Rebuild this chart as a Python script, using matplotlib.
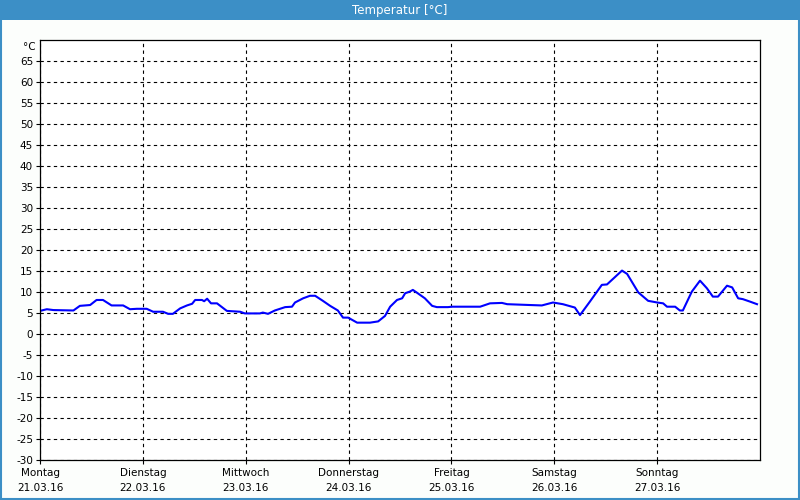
import matplotlib
matplotlib.use("Agg")
import matplotlib.pyplot as plt
from matplotlib.patches import Rectangle

# hours since Montag 00:00 and temperature in °C
hours = [0, 1.6, 3.1, 7.8, 9.3, 11.7, 13.2, 14.7, 16.7, 19.4, 21.0, 22.6,
         24.9, 26.4, 28.7, 29.9, 31.0, 32.7, 34.3, 35.5, 36.2, 37.8, 38.3, 39.0,
         39.9, 41.3, 43.6, 46.7, 47.8, 51.3, 52.0, 53.2, 54.8, 57.2, 58.8, 59.5,
         61.4, 63.0, 64.2, 66.0, 67.7, 69.5, 70.7, 71.9, 74.0, 77.0, 78.9, 80.5,
         81.7, 83.3, 84.5, 85.2, 86.3, 87.0, 88.0, 89.8, 91.5, 92.6, 95.2, 96.1,
         102.7, 105.0, 107.8, 109.0, 114.3, 117.1, 119.7, 122.0, 124.8, 126.0,
         128.3, 131.1, 132.3, 135.8, 137.0, 139.6, 141.9, 144.0, 145.4, 146.3,
         148.2, 149.3, 150.0, 152.1, 154.0, 155.6, 157.0, 158.2, 160.3, 161.5,
         162.9, 164.0, 165.7, 167.3]
temps = [5.5, 5.9, 5.7, 5.6, 6.7, 6.9, 8.1, 8.1, 6.8, 6.8, 5.9, 6.0,
         6.0, 5.3, 5.3, 4.8, 4.8, 6.1, 6.8, 7.2, 8.1, 8.1, 7.8, 8.4,
         7.3, 7.3, 5.5, 5.3, 4.9, 4.9, 5.1, 4.8, 5.6, 6.4, 6.5, 7.5,
         8.5, 9.1, 9.1, 7.9, 6.7, 5.6, 3.9, 3.9, 2.7, 2.7, 3.0, 4.3,
         6.5, 8.1, 8.5, 9.7, 10.1, 10.5, 9.8, 8.5, 6.7, 6.4, 6.4, 6.5,
         6.5, 7.3, 7.4, 7.1, 6.9, 6.8, 7.5, 7.1, 6.3, 4.5,
         7.7, 11.7, 11.8, 15.1, 14.3, 9.9, 7.9, 7.5, 7.3, 6.5,
         6.5, 5.6, 5.6, 10.1, 12.7, 10.9, 8.9, 8.9, 11.5, 11.1,
         8.5, 8.3, 7.7, 7.1]

days = ["Montag", "Dienstag", "Mittwoch", "Donnerstag", "Freitag", "Samstag", "Sonntag"]
dates = ["21.03.16", "22.03.16", "23.03.16", "24.03.16", "25.03.16", "26.03.16", "27.03.16"]
y_ticks = list(range(-30, 70, 5))

blue_bar = "#3c8fc6"

fig = plt.figure(figsize=(8, 5), dpi=100)
fig.patch.set_facecolor("#fcfefc")

# title bar and frame
fig.patches.append(Rectangle((0, 0.96), 1, 0.04, transform=fig.transFigure,
                             facecolor=blue_bar, edgecolor="none", zorder=0))
fig.patches.append(Rectangle((0.001, 0.002), 0.998, 0.996, transform=fig.transFigure,
                             facecolor="none", edgecolor=blue_bar, linewidth=1.5, zorder=0))
fig.text(0.5, 0.979, "Temperatur [°C]", color="white", ha="center", va="center",
         fontsize=8.5)

ax = fig.add_axes([0.05, 0.08, 0.9, 0.84])
ax.set_facecolor("white")
ax.plot(hours, temps, color="#0000ff", linewidth=1.5)

ax.set_xlim(0, 168)
ax.set_ylim(-30, 70)
ax.set_xticks([24 * i for i in range(7)])
ax.set_xticklabels([d + "\n" + t for d, t in zip(days, dates)], linespacing=1.6)
ax.set_yticks(y_ticks)
ax.set_yticklabels([str(v) for v in y_ticks])
ax.tick_params(axis="both", length=3, width=0.8, labelsize=7.5, pad=2, colors="black")
ax.tick_params(axis="x", pad=3)
ax.grid(True, color="black", linestyle=(0, (3, 3)), linewidth=0.8)
for s in ax.spines.values():
    s.set_linewidth(0.9)
    s.set_color("black")

ax.text(-0.006, 0.995, "°C", transform=ax.transAxes, ha="right", va="top", fontsize=7.5)

fig.savefig("out.png", dpi=100, facecolor=fig.get_facecolor())
